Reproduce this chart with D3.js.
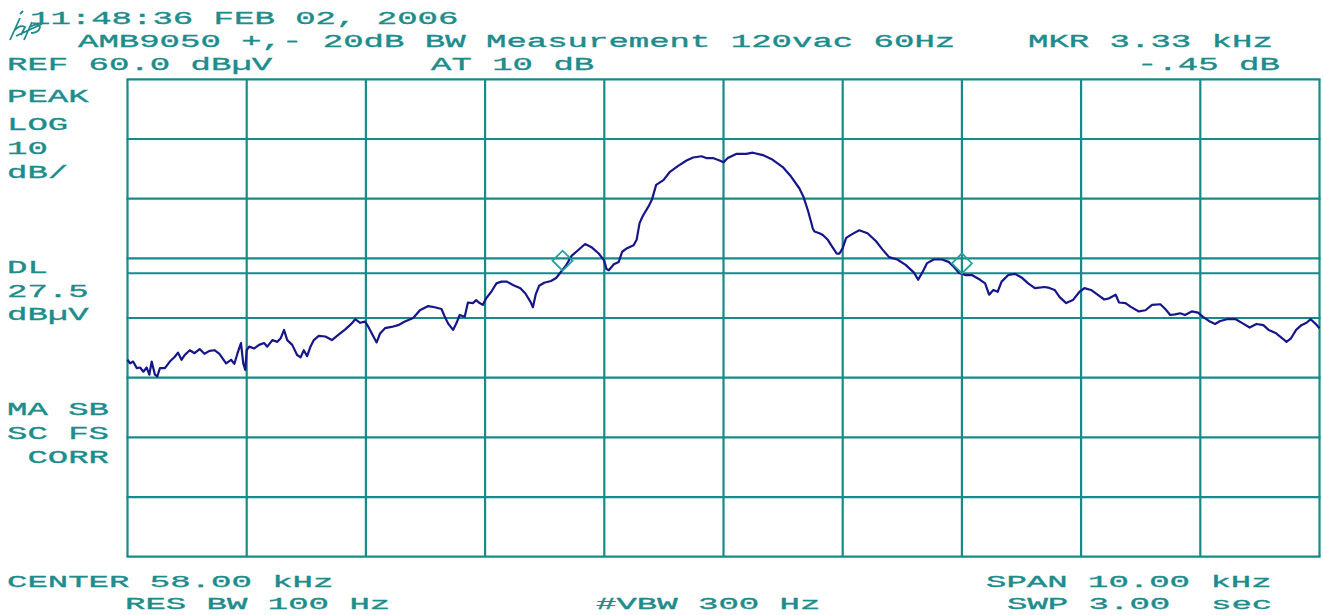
<!DOCTYPE html>
<html><head><meta charset="utf-8">
<script src="https://cdn.jsdelivr.net/npm/d3@7"></script>
<style>html,body{margin:0;padding:0;background:#fff;overflow:hidden}
text{white-space:pre}</style>
</head><body><svg id="c" width="1323" height="615"></svg>
<script>
// ---------- data ----------
const freqTicks = [53,54,55,56,57,58,59,60,61,62,63]; // kHz (center 58, span 10)
const levelTicks = [60,50,40,30,20,10,0,-10,-20];     // dBµV (ref 60, 10 dB/div)
const displayLine = 27.5;                               // DL dBµV
const traceFreq = [
53.000,53.022,53.047,53.078,53.106,53.133,53.161,53.183,53.203,53.230,
53.250,53.272,53.314,53.355,53.397,53.424,53.453,53.480,53.522,53.563,
53.605,53.646,53.688,53.730,53.771,53.827,53.869,53.896,53.923,53.952,
53.971,53.988,54.000,54.021,54.063,54.104,54.146,54.173,54.215,54.257,
54.285,54.313,54.340,54.382,54.423,54.452,54.479,54.507,54.535,54.563,
54.604,54.660,54.715,54.771,54.827,54.882,54.910,54.952,54.993,55.021,
55.063,55.090,55.119,55.160,55.215,55.271,55.327,55.397,55.453,55.523,
55.578,55.634,55.662,55.689,55.731,55.759,55.787,55.829,55.856,55.898,
55.925,55.954,55.981,56.009,56.052,56.095,56.137,56.180,56.238,56.296,
56.338,56.381,56.401,56.424,56.453,56.496,56.553,56.596,56.639,56.682,
56.725,56.782,56.839,56.897,56.953,56.997,57.019,57.038,57.080,57.121,
57.150,57.191,57.246,57.271,57.296,57.316,57.329,57.371,57.399,57.435,
57.496,57.551,57.620,57.690,57.745,57.815,57.856,57.911,57.967,58.000,
58.036,58.106,58.190,58.246,58.330,58.413,58.497,58.567,58.637,58.671,
58.707,58.735,58.749,58.763,58.805,58.833,58.875,58.903,58.950,58.973,
59.000,59.028,59.042,59.083,59.139,59.208,59.278,59.333,59.389,59.458,
59.528,59.598,59.633,59.667,59.708,59.764,59.833,59.889,59.931,59.973,
60.028,60.083,60.153,60.195,60.228,60.264,60.300,60.333,60.389,60.445,
60.500,60.556,60.612,60.695,60.723,60.778,60.820,60.875,60.931,60.987,
61.028,61.083,61.138,61.194,61.235,61.290,61.318,61.373,61.414,61.484,
61.540,61.595,61.665,61.706,61.748,61.789,61.831,61.872,61.928,61.981,
62.023,62.081,62.124,62.167,62.225,62.297,62.356,62.414,62.471,62.529,
62.573,62.631,62.688,62.723,62.761,62.804,62.848,62.891,62.926,62.963,
63.000];
const traceLevel = [
13.0,12.4,12.7,11.6,11.7,11.0,11.7,10.5,12.7,10.5,
10.2,11.6,11.6,12.7,13.5,14.2,13.0,13.8,14.6,14.1,
14.8,14.0,14.5,14.6,14.0,12.4,13.0,12.3,14.1,15.8,
12.4,11.3,14.6,15.2,14.9,15.5,15.8,15.2,16.3,16.0,
16.6,18.0,16.3,15.5,13.8,13.4,14.6,13.6,15.2,16.3,
17.0,16.9,16.3,17.2,18.1,19.1,19.8,19.2,19.4,18.5,
16.9,15.9,17.4,18.3,18.5,18.8,19.4,20.0,21.3,22.0,
21.8,21.5,20.2,19.1,18.0,19.1,20.5,20.2,22.6,22.5,
23.0,22.5,22.2,23.3,24.4,25.8,26.1,26.1,25.5,25.0,
24.1,22.7,21.8,23.9,25.4,25.9,26.2,26.7,27.8,28.9,
30.4,31.4,32.4,31.8,30.8,29.7,28.2,28.0,29.0,29.4,
31.1,31.7,32.2,33.1,35.9,36.8,37.3,38.7,39.8,42.3,
43.1,44.5,45.5,46.4,46.9,47.1,46.8,46.8,46.4,46.1,
46.8,47.5,47.5,47.7,47.3,46.5,45.3,43.7,41.7,40.3,
38.1,36.1,35.0,34.5,34.2,33.9,33.1,32.2,30.8,30.8,
31.7,33.4,33.6,34.1,34.7,34.2,32.9,31.5,30.2,29.8,
28.9,27.6,26.4,27.6,29.2,29.8,29.8,29.4,28.6,27.6,
27.2,27.2,26.4,25.8,23.9,24.7,24.4,26.1,27.2,27.4,
26.8,25.8,25.0,25.2,25.1,24.7,23.5,22.5,23.0,24.4,
25.0,24.7,23.9,23.1,23.3,23.9,22.6,22.5,21.9,21.1,
21.3,22.2,22.3,21.5,20.5,20.6,20.8,20.5,21.1,20.9,
20.2,19.4,19.0,19.5,19.8,19.8,19.1,18.4,19.0,18.8,
18.0,17.5,16.6,16.0,16.6,18.0,18.8,19.2,19.8,19.1,
18.3];
const markerFreq = [56.65, 60.00];
const markerLevel = [29.6, 29.15];
const headerTexts = ["11:48:36 FEB 02, 2006", "AMB9050 +,- 20dB BW Measurement 120vac 60Hz",
  "MKR 3.33 kHz", "REF 60.0 dBµV", "AT 10 dB", "-.45 dB"];
const sideTexts = ["PEAK", "LOG", "10", "dB/", "DL", "27.5", "dBµV", "MA SB", "SC FS", " CORR"];
const footerTexts = ["CENTER 58.00 kHz", "SPAN 10.00 kHz", "RES BW 100 Hz", "#VBW 300 Hz", "SWP 3.00  sec"];

// ---------- layout / style ----------
const GRID = "#178a8a", TXT = "#1d8c8c", TRACE = "#16168a", MARK = "#2a9e9e";
const headerPos = [[30,24],[78,47],[1028,47],[7,70],[431,70],[1137,70]];
const sidePos = [[7,102],[7,130],[7,154],[7,178],[7,273],[7,297],[7,320],[7,415],[7,439],[7,463]];
const footerPos = [[7,587],[986,587],[125,609],[596,609],[1007,609]];
const CH = 20.4;

const svg = d3.select("#c");
const x = d3.scaleLinear().domain([53, 63]).range([127.5, 1319.5]);
const y = d3.scaleLinear().domain([-20, 60]).range([556.7, 79.3]);

// grid
svg.append("g").selectAll("line").data(freqTicks).join("line")
  .attr("x1", d => x(d)).attr("x2", d => x(d))
  .attr("y1", y(60)).attr("y2", y(-20))
  .attr("stroke", GRID).attr("stroke-width", 2.2);
svg.append("g").selectAll("line").data(levelTicks).join("line")
  .attr("x1", x(53) - 1).attr("x2", x(63) + 1)
  .attr("y1", d => y(d)).attr("y2", d => y(d))
  .attr("stroke", GRID).attr("stroke-width", 2.2);
// display line
svg.append("line").attr("x1", x(53)).attr("x2", x(63))
  .attr("y1", y(displayLine)).attr("y2", y(displayLine))
  .attr("stroke", GRID).attr("stroke-width", 2);

// trace
const pts = traceFreq.map((f, i) => [f, traceLevel[i]]);
svg.append("path").datum(pts)
  .attr("d", d3.line().x(d => x(d[0])).y(d => y(d[1])))
  .attr("fill", "none").attr("stroke", TRACE).attr("stroke-width", 2.2)
  .attr("stroke-linejoin", "round");

// markers
svg.append("g").selectAll("path").data(markerFreq.map((f, i) => [f, markerLevel[i]])).join("path")
  .attr("d", d => { const cx = x(d[0]), cy = y(d[1]);
    return `M${cx-10},${cy}L${cx},${cy-10}L${cx+10},${cy}L${cx},${cy+10}Z`; })
  .attr("fill", "none").attr("stroke", MARK).attr("stroke-width", 1.8);

// texts
function put(list, pos, size) {
  svg.append("g").selectAll("text").data(list).join("text")
    .attr("x", (d, i) => pos[i][0]).attr("y", (d, i) => pos[i][1])
    .attr("textLength", d => d.length * CH).attr("lengthAdjust", "spacingAndGlyphs")
    .attr("font-family", "'Liberation Mono', 'DejaVu Sans Mono', monospace")
    .attr("font-size", size).attr("fill", TXT)
    .attr("stroke", TXT).attr("stroke-width", 0.35).text(d => d);
}
put(headerTexts, headerPos, 19);
put(sideTexts, sidePos, 19);
put(footerTexts, footerPos, 17);

// logo
svg.append("path")
  .attr("d", "M10,40L20,18 M14,31Q20,24 25,27L21,35 M24,40L32,22 M30,27Q38,22 40,27Q39,33 31,33 M16,36L42,24 M20,14L23,11")
  .attr("fill", "none").attr("stroke", TXT).attr("stroke-width", 1.8);
</script></body></html>
